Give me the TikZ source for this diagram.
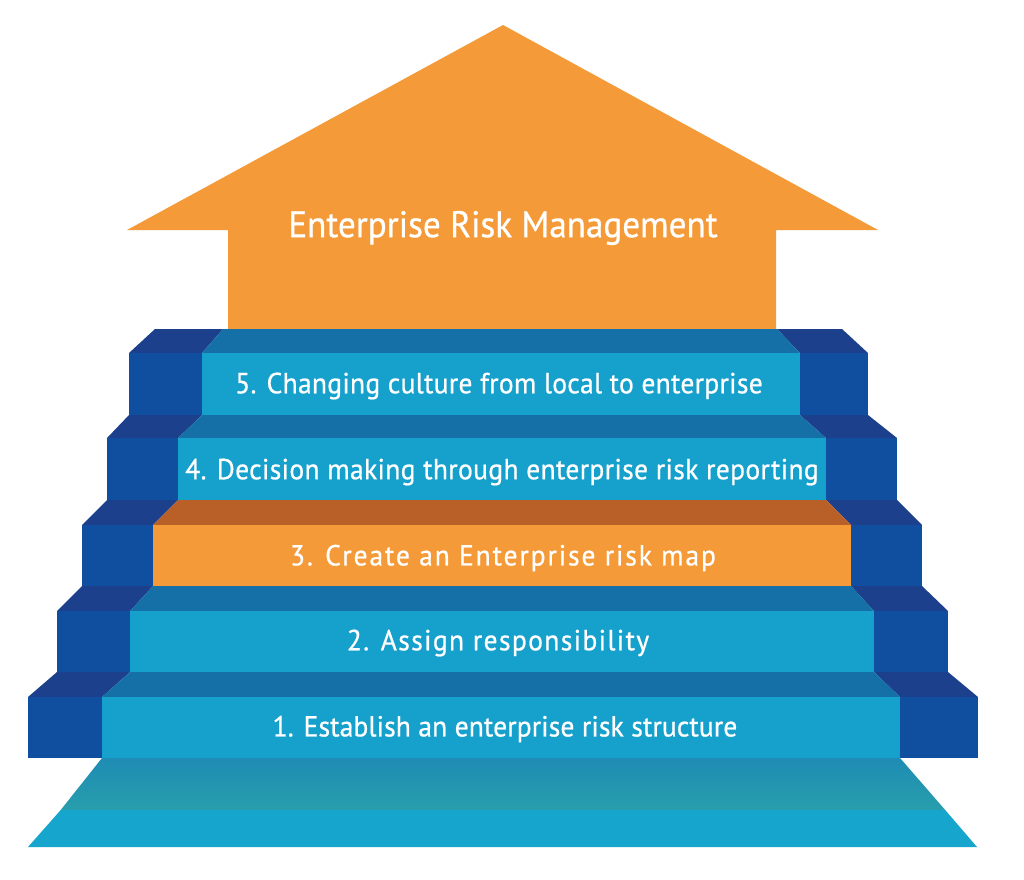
\documentclass[tikz,border=0pt]{standalone}
\usepackage{fontspec}
\setmainfont{PT Sans}[FakeStretch=0.95, FakeBold=0.7]
\newfontfamily\fontfive{PT Sans}[FakeStretch=0.95, FakeBold=0.7, LetterSpace=1]
\newfontfamily\fontfour{PT Sans}[FakeStretch=0.95, FakeBold=0.7, LetterSpace=1.2]
\newfontfamily\fontthree{PT Sans}[FakeStretch=0.95, FakeBold=0.7, LetterSpace=6.5]
\newfontfamily\fonttwo{PT Sans}[FakeStretch=0.95, FakeBold=0.7, LetterSpace=4.7]
\newfontfamily\fontone{PT Sans}[FakeStretch=0.95, FakeBold=0.7, LetterSpace=0.4]
\begin{document}
\begin{tikzpicture}[x=1pt,y=-1pt]
\definecolor{blockfront}{RGB}{16,78,160}
\definecolor{blocktop}{RGB}{28,64,140}
\definecolor{stepfront}{RGB}{22,160,204}
\definecolor{steptop}{RGB}{20,112,166}
\definecolor{ermorange}{RGB}{244,154,56}
\definecolor{orangetop}{RGB}{184,96,40}
\definecolor{floortop}{RGB}{30,140,180}
\definecolor{floormid}{RGB}{40,158,172}
\definecolor{floorlow}{RGB}{22,165,205}
\tikzset{
  lbl/.style={text=white, inner sep=0pt},
  bfront/.style={fill=blockfront},
  btop/.style={fill=blocktop},
}
\useasboundingbox (0,0) rectangle (1024,879);
\fill[white] (0,0) rectangle (1024,879);

% arrow
\fill[ermorange] (503,25) -- (878,230) -- (776,230) -- (776,329.5) -- (228,329.5) -- (228,230) -- (127,230) -- cycle;
\node[lbl, font=\fontsize{37}{40}\selectfont] (erm) at (503,228) {Enterprise Risk Management};

% step 5 top face
\fill[btop] (155,329) -- (223,329) -- (202,353) -- (129,353) -- cycle;
\fill[btop] (777,329) -- (842,329) -- (868,353) -- (800,353) -- cycle;
\fill[steptop] (223,329) -- (777,329) -- (800,353) -- (202,353) -- cycle;
% step 5 front
\fill[bfront] (129,353) rectangle (202,415);
\fill[bfront] (800,353) rectangle (868,415);
\fill[stepfront] (202,353) rectangle (800,415);
\node[lbl, font=\fontfive\fontsize{29}{32}\selectfont] (s5) at (499,386) {5. Changing culture from local to enterprise};

% step 4 top
\fill[btop] (129,415) -- (202,415) -- (178,438) -- (107,438) -- cycle;
\fill[btop] (800,415) -- (868,415) -- (897,438) -- (826,438) -- cycle;
\fill[steptop] (202,415) -- (800,415) -- (826,438) -- (178,438) -- cycle;
% step 4 front
\fill[bfront] (107,438) rectangle (178,500);
\fill[bfront] (826,438) rectangle (897,500);
\fill[stepfront] (178,438) rectangle (826,500);
\node[lbl, font=\fontfour\fontsize{29}{32}\selectfont] (s4) at (502,472) {4. Decision making through enterprise risk reporting};

% step 3 top
\fill[btop] (107,500) -- (178,500) -- (153,525) -- (82,525) -- cycle;
\fill[btop] (826,500) -- (897,500) -- (922,525) -- (851,525) -- cycle;
\fill[orangetop] (178,500) -- (826,500) -- (851,525) -- (153,525) -- cycle;
% step 3 front
\fill[bfront] (82,525) rectangle (153,586);
\fill[bfront] (851,525) rectangle (922,586);
\fill[ermorange] (153,525) rectangle (851,586);
\node[lbl, font=\fontthree\fontsize{29}{32}\selectfont] (s3) at (503,558) {3. Create an Enterprise risk map};

% step 2 top
\fill[btop] (82,586) -- (153,586) -- (130,611) -- (57,611) -- cycle;
\fill[btop] (851,586) -- (922,586) -- (948,611) -- (874,611) -- cycle;
\fill[steptop] (153,586) -- (851,586) -- (874,611) -- (130,611) -- cycle;
% step 2 front
\fill[bfront] (57,611) rectangle (130,672);
\fill[bfront] (874,611) rectangle (948,672);
\fill[stepfront] (130,611) rectangle (874,672);
\node[lbl, font=\fonttwo\fontsize{29}{32}\selectfont] (s2) at (498,643) {2. Assign responsibility};

% step 1 top
\fill[btop] (57,672) -- (130,672) -- (102,697) -- (28,697) -- cycle;
\fill[btop] (874,672) -- (948,672) -- (978,697) -- (900,697) -- cycle;
\fill[steptop] (130,672) -- (874,672) -- (900,697) -- (102,697) -- cycle;
% step 1 front
\fill[bfront] (28,697) rectangle (102,758);
\fill[bfront] (900,697) rectangle (978,758);
\fill[stepfront] (102,697) rectangle (900,758);
\node[lbl, font=\fontone\fontsize{29}{32}\selectfont] (s1) at (505,729) {1. Establish an enterprise risk structure};

% floor
\shade[top color=floortop, bottom color=floormid] (102,758) -- (900,758) -- (945.2,810) -- (60.7,810) -- cycle;
\fill[floorlow] (60.7,810) -- (945.2,810) -- (977,847) -- (28,847) -- cycle;
\end{tikzpicture}
\end{document}
